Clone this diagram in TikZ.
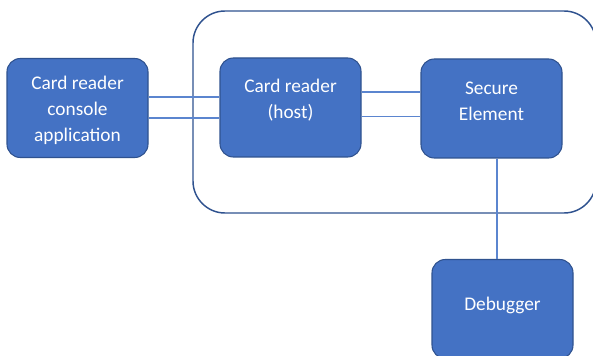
\documentclass[tikz,border=0pt]{standalone}
\usepackage{fontspec}
\setmainfont{Carlito}
\definecolor{boxfill}{HTML}{4472C4}
\definecolor{boxedge}{HTML}{2F528F}
\definecolor{wire}{HTML}{5B85CF}
\tikzset{
  blockbox/.style={draw=boxedge, line width=0.8pt, fill=boxfill, rounded corners=10pt,
    minimum width=105.75pt, minimum height=74.25pt, inner sep=0pt, text=white,
    font=\fontsize{14.5}{19}\selectfont, align=center},
  blocktext/.style={text=white, font=\fontsize{14.5}{19.5}\selectfont, align=center},
  wireline/.style={draw=wire, line width=0.8pt},
  groupbox/.style={draw=boxedge, line width=1.1pt, rounded corners=24pt}
}
\begin{document}
\begin{tikzpicture}[x=0.75pt,y=-0.75pt]
\useasboundingbox (0,0) rectangle (593,356);
\fill[white] (0,0) rectangle (593,356);
% group container
\draw[groupbox] (193,11) rectangle (596,213);
% boxes
\node[blockbox, label={[blocktext, yshift=-1.5pt]center:Card reader\\console\\application}] (console) at (77.5,108) {};
\node[blockbox, label={[blocktext, yshift=5.5pt]center:Card reader\\(host)}] (host) at (290.5,107.5) {};
\node[blockbox, label={[blocktext, yshift=5.5pt]center:Secure\\Element}] (se) at (491.5,108.5) {};
\node[blockbox, label={[blocktext, yshift=3pt]center:Debugger}] (dbg) at (502.5,309) {};
% connectors
\draw[wireline] ([yshift=8.25pt]console.east) -- ([yshift=8.25pt]console.east -| host.west);
\draw[wireline] ([yshift=-7.5pt]console.east) -- ([yshift=-7.5pt]console.east -| host.west);
\draw[wireline] ([yshift=11.6pt]host.east) -- ([yshift=11.6pt]host.east -| se.west);
\draw[wireline] ([yshift=-7.1pt]host.east) -- ([yshift=-7.1pt]host.east -| se.west);
\draw[wireline] ([xshift=4.1pt]se.south) -- ([xshift=4.1pt]se.south |- dbg.north);
\end{tikzpicture}
\end{document}
